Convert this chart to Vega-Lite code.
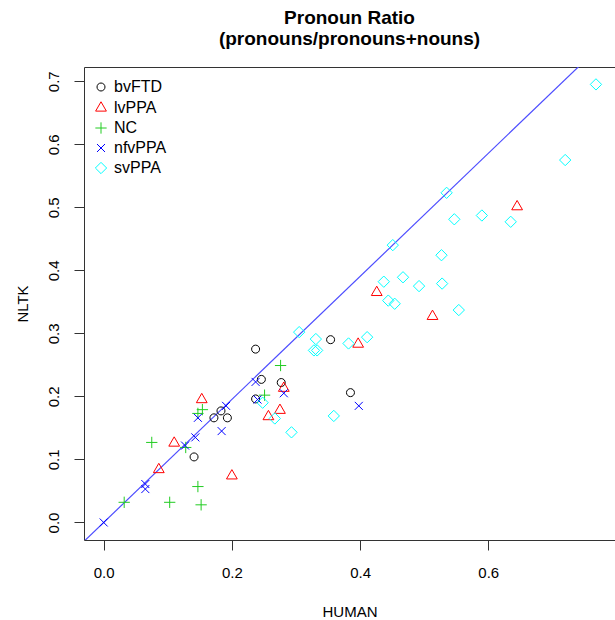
{
  "$schema": "https://vega.github.io/schema/vega-lite/v6.json",
  "width": 531,
  "height": 473,
  "autosize": {"type": "none"},
  "padding": {"left": 84, "top": 67, "right": 0, "bottom": 80},
  "title": {
    "text": ["Pronoun Ratio", "(pronouns/pronouns+nouns)"],
    "fontSize": 19,
    "font": "Liberation Sans",
    "fontWeight": "bold",
    "lineHeight": 21,
    "anchor": "middle",
    "offset": 18,
    "color": "#000000"
  },
  "config": {
    "view": {"stroke": null},
    "axis": {
      "grid": false,
      "labelFont": "Liberation Sans",
      "labelFontSize": 15,
      "labelColor": "#000000",
      "titleFont": "Liberation Sans",
      "titleFontSize": 15,
      "titleFontWeight": "normal",
      "titleColor": "#000000",
      "domainColor": "#333333",
      "domainWidth": 1,
      "tickColor": "#333333",
      "tickWidth": 1
    }
  },
  "layer": [
    {
      "data": {"values": [{"h": -0.05, "n": -0.0488}, {"h": 0.85, "n": 0.8296}]},
      "mark": {"type": "line", "clip": true, "color": "#4D4DFF", "strokeWidth": 1.2},
      "encoding": {
        "x": {
          "field": "h", "type": "quantitative",
          "scale": {"domain": [-0.0307, 0.7977], "nice": false, "zero": false},
          "axis": {
            "orient": "bottom",
            "values": [0, 0.2, 0.4, 0.6],
            "format": ".1f",
            "title": "HUMAN",
            "tickSize": 10,
            "labelPadding": 15,
            "titleY": 76,
            "titleBaseline": "alphabetic"
          }
        },
        "y": {
          "field": "n", "type": "quantitative",
          "scale": {"domain": [-0.0278, 0.7226], "nice": false, "zero": false},
          "axis": {
            "values": [0, 0.1, 0.2, 0.3, 0.4, 0.5, 0.6, 0.7],
            "format": ".1f",
            "title": "NLTK",
            "tickSize": 10,
            "labelPadding": 16,
            "labelAngle": 270,
            "labelAlign": "center",
            "labelBaseline": "alphabetic",
            "titleX": -57,
            "titleBaseline": "alphabetic"
          }
        }
      }
    },
    {
      "data": {
        "values": [
          {"g": "bvFTD", "h": 0.141, "n": 0.104},
          {"g": "bvFTD", "h": 0.172, "n": 0.166},
          {"g": "bvFTD", "h": 0.183, "n": 0.177},
          {"g": "bvFTD", "h": 0.193, "n": 0.166},
          {"g": "bvFTD", "h": 0.237, "n": 0.196},
          {"g": "bvFTD", "h": 0.237, "n": 0.275},
          {"g": "bvFTD", "h": 0.246, "n": 0.227},
          {"g": "bvFTD", "h": 0.277, "n": 0.222},
          {"g": "bvFTD", "h": 0.354, "n": 0.290},
          {"g": "bvFTD", "h": 0.385, "n": 0.206},
          {"g": "lvPPA", "h": 0.086, "n": 0.084},
          {"g": "lvPPA", "h": 0.110, "n": 0.126},
          {"g": "lvPPA", "h": 0.153, "n": 0.195},
          {"g": "lvPPA", "h": 0.200, "n": 0.074},
          {"g": "lvPPA", "h": 0.257, "n": 0.168},
          {"g": "lvPPA", "h": 0.275, "n": 0.178},
          {"g": "lvPPA", "h": 0.281, "n": 0.213},
          {"g": "lvPPA", "h": 0.397, "n": 0.283},
          {"g": "lvPPA", "h": 0.426, "n": 0.365},
          {"g": "lvPPA", "h": 0.513, "n": 0.327},
          {"g": "lvPPA", "h": 0.645, "n": 0.501},
          {"g": "NC", "h": 0.032, "n": 0.032},
          {"g": "NC", "h": 0.075, "n": 0.127},
          {"g": "NC", "h": 0.103, "n": 0.032},
          {"g": "NC", "h": 0.128, "n": 0.119},
          {"g": "NC", "h": 0.147, "n": 0.057},
          {"g": "NC", "h": 0.152, "n": 0.028},
          {"g": "NC", "h": 0.147, "n": 0.173},
          {"g": "NC", "h": 0.154, "n": 0.179},
          {"g": "NC", "h": 0.251, "n": 0.202},
          {"g": "NC", "h": 0.276, "n": 0.249},
          {"g": "nfvPPA", "h": 0.0, "n": 0.0},
          {"g": "nfvPPA", "h": 0.065, "n": 0.061},
          {"g": "nfvPPA", "h": 0.065, "n": 0.053},
          {"g": "nfvPPA", "h": 0.127, "n": 0.122},
          {"g": "nfvPPA", "h": 0.143, "n": 0.135},
          {"g": "nfvPPA", "h": 0.147, "n": 0.166},
          {"g": "nfvPPA", "h": 0.184, "n": 0.145},
          {"g": "nfvPPA", "h": 0.191, "n": 0.185},
          {"g": "nfvPPA", "h": 0.237, "n": 0.223},
          {"g": "nfvPPA", "h": 0.240, "n": 0.195},
          {"g": "nfvPPA", "h": 0.281, "n": 0.205},
          {"g": "nfvPPA", "h": 0.398, "n": 0.185},
          {"g": "svPPA", "h": 0.248, "n": 0.190},
          {"g": "svPPA", "h": 0.267, "n": 0.165},
          {"g": "svPPA", "h": 0.293, "n": 0.143},
          {"g": "svPPA", "h": 0.305, "n": 0.302},
          {"g": "svPPA", "h": 0.331, "n": 0.291},
          {"g": "svPPA", "h": 0.328, "n": 0.273},
          {"g": "svPPA", "h": 0.333, "n": 0.273},
          {"g": "svPPA", "h": 0.359, "n": 0.169},
          {"g": "svPPA", "h": 0.382, "n": 0.284},
          {"g": "svPPA", "h": 0.411, "n": 0.294},
          {"g": "svPPA", "h": 0.437, "n": 0.382},
          {"g": "svPPA", "h": 0.444, "n": 0.352},
          {"g": "svPPA", "h": 0.454, "n": 0.347},
          {"g": "svPPA", "h": 0.451, "n": 0.440},
          {"g": "svPPA", "h": 0.467, "n": 0.389},
          {"g": "svPPA", "h": 0.492, "n": 0.375},
          {"g": "svPPA", "h": 0.528, "n": 0.379},
          {"g": "svPPA", "h": 0.527, "n": 0.424},
          {"g": "svPPA", "h": 0.554, "n": 0.337},
          {"g": "svPPA", "h": 0.535, "n": 0.523},
          {"g": "svPPA", "h": 0.547, "n": 0.481},
          {"g": "svPPA", "h": 0.590, "n": 0.487},
          {"g": "svPPA", "h": 0.635, "n": 0.477},
          {"g": "svPPA", "h": 0.720, "n": 0.575},
          {"g": "svPPA", "h": 0.768, "n": 0.695}
        ]
      },
      "mark": {"type": "point", "filled": false, "strokeWidth": 1, "size": 64, "opacity": 1},
      "encoding": {
        "x": {
          "field": "h", "type": "quantitative",
          "scale": {"domain": [-0.0307, 0.7977], "nice": false, "zero": false},
          "axis": {"orient": "top", "labels": false, "ticks": false, "title": null, "domain": true}
        },
        "y": {
          "field": "n", "type": "quantitative",
          "scale": {"domain": [-0.0278, 0.7226], "nice": false, "zero": false}
        },
        "color": {
          "field": "g", "type": "nominal",
          "scale": {
            "domain": ["bvFTD", "lvPPA", "NC", "nfvPPA", "svPPA"],
            "range": ["#000000", "#FF0000", "#22CC22", "#0000FF", "#00FFFF"]
          },
          "legend": {
            "orient": "none",
            "legendX": 9,
            "legendY": 12,
            "title": null,
            "padding": 0,
            "labelFont": "Liberation Sans",
            "labelFontSize": 16,
            "labelColor": "#000000",
            "labelOffset": 5,
            "rowPadding": 4,
            "symbolSize": 64,
            "symbolStrokeWidth": 1
          }
        },
        "shape": {
          "field": "g", "type": "nominal",
          "scale": {
            "domain": ["bvFTD", "lvPPA", "NC", "nfvPPA", "svPPA"],
            "range": [
              "M1,0A1,1,0,1,1,-1,0A1,1,0,1,1,1,0Z",
              "M0,-1.555L1.347,0.778L-1.347,0.778Z",
              "M-1.414,0L1.414,0M0,-1.414L0,1.414",
              "M-1,-1L1,1M-1,1L1,-1",
              "M0,-1.414L1.414,0L0,1.414L-1.414,0Z"
            ]
          }
        }
      }
    }
  ],
  "resolve": {"axis": {"x": "independent"}}
}
